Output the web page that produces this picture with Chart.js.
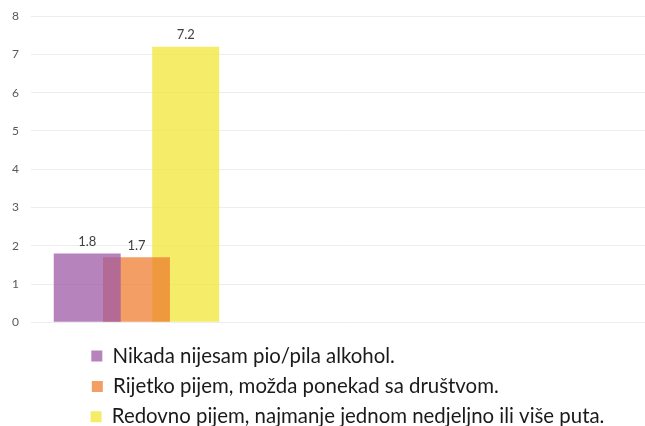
<!DOCTYPE html>
<html>
<head>
<meta charset="utf-8">
<script src="https://cdn.jsdelivr.net/npm/chart.js"></script>
<style>
  html, body { margin: 0; padding: 0; background: #fff; overflow: hidden; }
  #wrap { width: 664px; height: 437px; }
</style>
</head>
<body>
<div id="wrap"><canvas id="chart"></canvas></div>
<script>
  // chart data
  const categories = ['', '', ''];
  const seriesNames = [
    'Nikada nijesam pio/pila alkohol.',
    'Rijetko pijem, možda ponekad sa društvom.',
    'Redovno pijem, najmanje jednom nedjeljno ili više puta.'
  ];
  const neverValues = [1.8, null, null];
  const rarelyValues = [1.7, null, null];
  const regularValues = [7.2, null, null];
  const yTicks = [0, 1, 2, 3, 4, 5, 6, 7, 8];

  const seriesColors = ['rgba(158,90,165,0.75)', 'rgba(237,125,49,0.75)', 'rgba(241,229,56,0.75)'];
  const fontFamily = 'Lato, "Open Sans", sans-serif';
  const legendFontSize = 20.4;

  // all legend rows get the same width so the centred rows line up on the left
  const padLegendLabels = (chart) => {
    const items = Chart.defaults.plugins.legend.labels.generateLabels(chart);
    const ctx = chart.ctx;
    ctx.save();
    ctx.font = legendFontSize + 'px ' + fontFamily;
    const widths = items.map(it => ctx.measureText(it.text).width);
    const maxW = Math.max(...widths);
    const spaceW = ctx.measureText(' ').width;
    items.forEach((it, i) => {
      it.text += ' '.repeat(Math.round((maxW - widths[i]) / spaceW));
    });
    ctx.restore();
    return items;
  };

  // value labels above each bar
  const valueLabels = {
    id: 'valueLabels',
    afterDatasetsDraw(chart) {
      const ctx = chart.ctx;
      ctx.save();
      ctx.font = '13px ' + fontFamily;
      ctx.fillStyle = '#404040';
      ctx.textAlign = 'center';
      ctx.textBaseline = 'bottom';
      chart.data.datasets.forEach((ds, i) => {
        chart.getDatasetMeta(i).data.forEach((bar, j) => {
          const v = ds.data[j];
          if (v === null || v === undefined) return;
          ctx.fillText(v.toFixed(1), bar.x, bar.y - 5);
        });
      });
      ctx.restore();
    }
  };

  const values = [neverValues, rarelyValues, regularValues];

  new Chart(document.getElementById('chart'), {
    type: 'bar',
    data: {
      labels: categories,
      datasets: seriesNames.map((name, i) => ({
        label: name,
        data: values[i],
        backgroundColor: seriesColors[i],
        borderWidth: 0
      }))
    },
    options: {
      responsive: true,
      maintainAspectRatio: false,
      animation: false,
      layout: { padding: { left: 0, top: 0, right: 0, bottom: 0 } },
      datasets: { bar: { categoryPercentage: 0.70, barPercentage: 1.36 } },
      scales: {
        x: {
          grid: { display: false, drawTicks: true, tickLength: 13.5 },
          border: { display: false },
          ticks: { display: false }
        },
        y: {
          min: 0,
          max: 8,
          afterBuildTicks: axis => { axis.ticks = yTicks.map(v => ({ value: v })); },
          ticks: { padding: 12, color: '#595959', font: { family: fontFamily, size: 12, lineHeight: 0.7 } },
          grid: { color: '#ededed', drawTicks: false },
          border: { display: false }
        }
      },
      plugins: {
        legend: {
          position: 'bottom',
          fullSize: false,
          labels: {
            boxWidth: 11,
            boxHeight: 11,
            padding: 10,
            color: '#1a1a1a',
            font: { family: fontFamily, size: legendFontSize },
            generateLabels: padLegendLabels
          }
        },
        tooltip: { enabled: false }
      }
    },
    plugins: [valueLabels]
  });
</script>
</body>
</html>
